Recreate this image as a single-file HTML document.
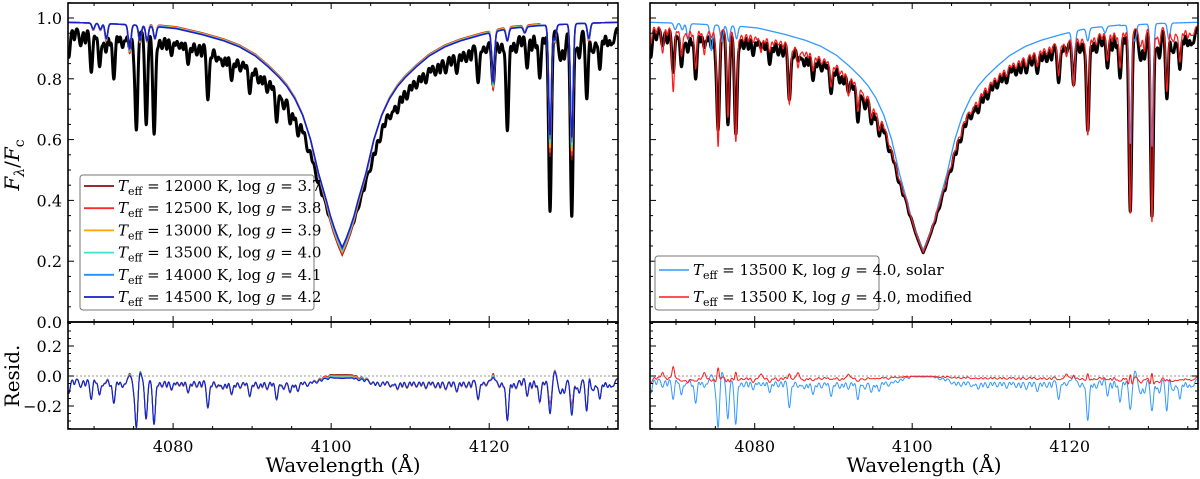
<!DOCTYPE html>
<html><head><meta charset="utf-8">
<style>
html,body{margin:0;padding:0;background:#fff;}
svg{display:block;font-family:"DejaVu Serif","Liberation Serif",serif;}
</style></head>
<body>
<svg id="fig" width="1200" height="479" viewBox="0 0 1200 479" xmlns="http://www.w3.org/2000/svg">
<defs>
<clipPath id="cTL"><rect x="68" y="3" width="550" height="319"/></clipPath>
<clipPath id="cBL"><rect x="68" y="322" width="550" height="107"/></clipPath>
<clipPath id="cTR"><rect x="650" y="3" width="548" height="319"/></clipPath>
<clipPath id="cBR"><rect x="650" y="322" width="548" height="107"/></clipPath>
</defs>
<g id="layer"></g>
</svg>
<script>
// ---------- data ----------
const lamMin = 4066.7, lamMax = 4136.3;
const hdCenter = 4101.4;
const profDelta = [0, 0.5, 1, 1.5, 2, 3, 4, 5, 6, 7, 8, 9.4, 11, 13, 15, 17.7, 21, 25, 30, 40];
const modelProfVal = [0.245, 0.275, 0.31, 0.35, 0.40, 0.49, 0.60, 0.68, 0.735, 0.775, 0.805, 0.84, 0.875, 0.905, 0.925, 0.945, 0.965, 0.975, 0.982, 0.99];
const obsProfVal = [0.228, 0.26, 0.295, 0.34, 0.385, 0.47, 0.565, 0.65, 0.70, 0.74, 0.775, 0.81, 0.845, 0.87, 0.895, 0.92, 0.94, 0.955, 0.965, 0.97];
const teffLabels = ["12000", "12500", "13000", "13500", "14000", "14500"];
const loggLabels = ["3.7", "3.8", "3.9", "4.0", "4.1", "4.2"];
const teffColors = ["#8b1010", "#ff2a2a", "#ffa500", "#40e0d0", "#1e90ff", "#1c1cc8"];
const coreOffset = [-0.025, -0.02, -0.015, -0.01, -0.005, 0];
const wingOffset = [0.006, 0.005, 0.004, 0.002, 0.001, 0];
const modelLineLam = [4069.9, 4070.8, 4071.55, 4074.5, 4075.8, 4076.7, 4077.7, 4120.5, 4122.3, 4124.5, 4127.7, 4128.3, 4130.45, 4132.6];
const modelLineDepth = [0.02, 0.02, 0.05, 0.08, 0.05, 0.05, 0.04, 0.17, 0.04, 0.02, 0.37, 0.05, 0.38, 0.05];
const obsLineLam = [4066.8, 4068.3, 4069.65, 4070.7, 4071.5, 4072.5, 4073.6, 4074.5, 4075.35, 4076.6, 4077.6, 4078.6, 4079.8, 4080.8, 4081.9, 4083.0, 4084.4, 4085.5, 4086.3, 4087.4, 4088.5, 4089.7, 4090.8, 4091.9, 4093.1, 4094.0, 4094.8, 4095.8, 4097.0, 4098.2, 4103.5, 4105.0, 4106.2, 4107.5, 4108.4, 4109.6, 4110.8, 4112.0, 4113.2, 4114.5, 4115.9, 4117.1, 4118.6, 4119.6, 4120.5, 4121.3, 4122.3, 4123.4, 4124.8, 4126.4, 4127.7, 4128.9, 4129.5, 4130.45, 4131.4, 4132.35, 4133.2, 4134.0, 4135.0, 4135.7];
const obsLineDepth = [0.10, 0.06, 0.15, 0.13, 0.08, 0.17, 0.06, 0.06, 0.34, 0.32, 0.35, 0.05, 0.07, 0.04, 0.09, 0.05, 0.20, 0.05, 0.06, 0.10, 0.05, 0.12, 0.06, 0.07, 0.16, 0.07, 0.10, 0.10, 0.06, 0.05, 0.04, 0.05, 0.06, 0.05, 0.07, 0.06, 0.05, 0.06, 0.05, 0.06, 0.08, 0.05, 0.14, 0.04, 0.16, 0.05, 0.33, 0.06, 0.12, 0.16, 0.62, 0.08, 0.10, 0.64, 0.10, 0.24, 0.08, 0.14, 0.06, 0.05];
const weakLineLam = [4067.5, 4068.9, 4070.2, 4071.1, 4072.0, 4073.1, 4074.0, 4075.0, 4078.1, 4079.2, 4080.3, 4081.3, 4082.4, 4083.6, 4084.9, 4085.9, 4086.8, 4087.9, 4089.1, 4090.2, 4091.3, 4092.5, 4093.6, 4095.3, 4096.4, 4097.6, 4098.8, 4099.6, 4102.9, 4104.2, 4105.6, 4106.8, 4107.9, 4109.0, 4110.2, 4111.4, 4112.6, 4113.8, 4115.2, 4116.5, 4117.7, 4119.1, 4121.8, 4122.9, 4124.1, 4125.4, 4125.9, 4127.0, 4129.1, 4131.0, 4132.9, 4133.6, 4134.5, 4135.4];
const weakLineDepth = [0.04, 0.05, 0.03, 0.04, 0.05, 0.04, 0.03, 0.05, 0.04, 0.05, 0.03, 0.04, 0.04, 0.05, 0.04, 0.03, 0.05, 0.04, 0.03, 0.04, 0.05, 0.04, 0.03, 0.05, 0.04, 0.03, 0.04, 0.03, 0.03, 0.04, 0.05, 0.04, 0.03, 0.05, 0.04, 0.04, 0.03, 0.05, 0.04, 0.04, 0.05, 0.03, 0.04, 0.05, 0.04, 0.06, 0.05, 0.04, 0.05, 0.06, 0.05, 0.04, 0.05, 0.04];
const modLineDepth = [0.06, 0.09, 0.22, 0.10, 0.04, 0.14, 0.09, 0.03, 0.40, 0.30, 0.38, 0.03, 0.03, 0.06, 0.05, 0.02, 0.22, 0.08, 0.03, 0.07, 0.03, 0.10, 0.03, 0.09, 0.12, 0.04, 0.08, 0.08, 0.03, 0.03, 0.02, 0.03, 0.04, 0.03, 0.05, 0.04, 0.03, 0.04, 0.03, 0.04, 0.06, 0.03, 0.12, 0.06, 0.17, 0.03, 0.35, 0.04, 0.10, 0.13, 0.63, 0.05, 0.08, 0.66, 0.06, 0.22, 0.05, 0.12, 0.04, 0.03];
const topTicks = [0.0, 0.2, 0.4, 0.6, 0.8, 1.0];
const residTicks = [-0.2, 0.0, 0.2];
const xTicks = [4080, 4100, 4120];

// ---------- helpers ----------
const NS = "http://www.w3.org/2000/svg";
const layer = document.getElementById("layer");
function mk(tag, attrs, parent) {
  const e = document.createElementNS(NS, tag);
  for (const k in attrs) e.setAttribute(k, attrs[k]);
  (parent || layer).appendChild(e);
  return e;
}
function interp(xa, ya, v) {
  if (v <= xa[0]) return ya[0];
  for (let i = 1; i < xa.length; i++) if (v <= xa[i]) {
    const t = (v - xa[i-1]) / (xa[i] - xa[i-1]);
    return ya[i-1] + t * (ya[i] - ya[i-1]);
  }
  return ya[ya.length - 1];
}
function lineFactor(l, L, D, s, mult) {
  let f = 1;
  for (let i = 0; i < L.length; i++) {
    const d = l - L[i];
    if (Math.abs(d) > 6 * s) continue;
    f *= 1 - Math.min(0.95, D[i] * mult) * Math.exp(-d * d / (2 * s * s));
  }
  return f;
}
const grid = [];
for (let l = lamMin; l <= lamMax + 1e-9; l += 0.02) grid.push(l);

function modelFlux(l, k) {
  const d = Math.abs(l - hdCenter);
  const g = Math.exp(-d * d / (2 * 2.5 * 2.5));
  const base = interp(profDelta, modelProfVal, d) + coreOffset[k] * g + wingOffset[k] * (1 - g) * (d < 25 ? 1 : 0);
  return base * lineFactor(l, modelLineLam, modelLineDepth, 0.17, 1 + 0.04 * (5 - k));
}
function obsFlux(l) {
  const d = Math.abs(l - hdCenter);
  return interp(profDelta, obsProfVal, d) * lineFactor(l, obsLineLam, obsLineDepth, 0.18, 1) * lineFactor(l, weakLineLam, weakLineDepth, 0.12, 1);
}
function modFlux(l) {
  const d = Math.abs(l - hdCenter);
  return interp(profDelta, obsProfVal, d) * 1.006 * lineFactor(l, obsLineLam, modLineDepth, 0.16, 1) * lineFactor(l, weakLineLam, weakLineDepth, 0.12, 0.6);
}

// ---------- axes ----------
function makeAxes(x0, x1) {
  const xs = l => x0 + (l - lamMin) / (lamMax - lamMin) * (x1 - x0);
  const ysT = v => 322 - v * 304;
  const ysB = v => 376 - v * 150;
  return { x0, x1, xs, ysT, ysB };
}
const AL = makeAxes(68, 618), AR = makeAxes(650, 1198);

function pathFrom(xsF, ysF, vals) {
  let s = "";
  for (let i = 0; i < grid.length; i++) s += (i ? "L" : "M") + xsF(grid[i]).toFixed(2) + "," + ysF(vals[i]).toFixed(2);
  return s;
}

const obsVals = grid.map(obsFlux);
const modelVals = teffColors.map((c, k) => grid.map(l => modelFlux(l, k)));
const modVals = grid.map(modFlux);

// ---- left top ----
const gTL = mk("g", { "clip-path": "url(#cTL)" });


const obsL = mk("path", { d: pathFrom(AL.xs, AL.ysT, obsVals), fill: "none", stroke: "#000", "stroke-width": 3, "stroke-linejoin": "round" }, gTL);


teffColors.forEach((c, k) => {
  const p = mk("path", { d: pathFrom(AL.xs, AL.ysT, modelVals[k]), fill: "none", stroke: c, "stroke-width": 1.5 }, gTL);
  
  
});

// ---- left resid ----
const gBL = mk("g", { "clip-path": "url(#cBL)" });


const zL = mk("line", { x1: 68, x2: 618, y1: AL.ysB(0), y2: AL.ysB(0), stroke: "#999", "stroke-width": 1, "stroke-dasharray": "2 2" }, gBL);


teffColors.forEach((c, k) => {
  const r = obsVals.map((v, i) => v - modelVals[k][i]);
  const p = mk("path", { d: pathFrom(AL.xs, AL.ysB, r), fill: "none", stroke: c, "stroke-width": 1.1 }, gBL);
  
  
});

// ---- right top ----
const gTR = mk("g", { "clip-path": "url(#cTR)" });


const obsR = mk("path", { d: pathFrom(AR.xs, AR.ysT, obsVals), fill: "none", stroke: "#000", "stroke-width": 3, "stroke-linejoin": "round" }, gTR);


const solR = mk("path", { d: pathFrom(AR.xs, AR.ysT, modelVals[3]), fill: "none", stroke: "#3399ff", "stroke-width": 1.3 }, gTR);


const modR = mk("path", { d: pathFrom(AR.xs, AR.ysT, modVals), fill: "none", stroke: "#ff1a1a", "stroke-width": 1.2 }, gTR);



// ---- right resid ----
const gBR = mk("g", { "clip-path": "url(#cBR)" });


const zR = mk("line", { x1: 650, x2: 1198, y1: AR.ysB(0), y2: AR.ysB(0), stroke: "#999", "stroke-width": 1, "stroke-dasharray": "2 2" }, gBR);


const rSol = mk("path", { d: pathFrom(AR.xs, AR.ysB, obsVals.map((v, i) => v - modelVals[3][i])), fill: "none", stroke: "#3399ff", "stroke-width": 1 }, gBR);


const rMod = mk("path", { d: pathFrom(AR.xs, AR.ysB, obsVals.map((v, i) => v - modVals[i])), fill: "none", stroke: "#ff1a1a", "stroke-width": 1 }, gBR);



// ---------- frames & ticks ----------
function frame(A, withLabels) {
  const g = mk("g", {});
  
  
  mk("rect", { x: A.x0, y: 3, width: A.x1 - A.x0, height: 319, fill: "none", stroke: "#000", "stroke-width": 1.6 }, g);
  mk("rect", { x: A.x0, y: 322, width: A.x1 - A.x0, height: 107, fill: "none", stroke: "#000", "stroke-width": 1.6 }, g);
  for (let l = 4070; l <= 4135; l += 5) {
    const x = A.xs(l), major = xTicks.includes(l), len = major ? 6 : 3;
    [3, 322].forEach(y => mk("line", { x1: x, x2: x, y1: y, y2: y + len, stroke: "#000", "stroke-width": 1 }, g));
    [322, 429].forEach(y => mk("line", { x1: x, x2: x, y1: y, y2: y - len, stroke: "#000", "stroke-width": 1 }, g));
  }
  xTicks.forEach(l => {
    const t = mk("text", { x: A.xs(l), y: 452, "text-anchor": "middle", "font-size": 16 }, g);
    t.textContent = l;
    
    
  });
  for (let i = 0; i <= 21; i++) {
    const v = i * 0.05, y = A.ysT(v), major = i % 4 === 0, len = major ? 6 : 3;
    mk("line", { x1: A.x0, x2: A.x0 + len, y1: y, y2: y, stroke: "#000", "stroke-width": 1 }, g);
    mk("line", { x1: A.x1, x2: A.x1 - len, y1: y, y2: y, stroke: "#000", "stroke-width": 1 }, g);
  }
  for (let i = -7; i <= 7; i++) {
    const v = i * 0.05, y = A.ysB(v), major = i % 4 === 0, len = major ? 6 : 3;
    mk("line", { x1: A.x0, x2: A.x0 + len, y1: y, y2: y, stroke: "#000", "stroke-width": 1 }, g);
    mk("line", { x1: A.x1, x2: A.x1 - len, y1: y, y2: y, stroke: "#000", "stroke-width": 1 }, g);
  }
  if (withLabels) {
    topTicks.forEach(v => {
      const t = mk("text", { x: 62, y: A.ysT(v) + 6, "text-anchor": "end", "font-size": 16 }, g);
      t.textContent = v.toFixed(1);
      
      
    });
    residTicks.forEach(v => {
      const t = mk("text", { x: 62, y: A.ysB(v) + 6, "text-anchor": "end", "font-size": 16 }, g);
      t.textContent = v < 0 ? "\u2212" + Math.abs(v).toFixed(1) : v.toFixed(1);
      
      
    });
  }
  const xl = mk("text", { x: (A.x0 + A.x1) / 2, y: 472, "text-anchor": "middle", "font-size": 20 }, g);
  xl.textContent = "Wavelength (\u00C5)";
  
  
}
frame(AL, true);
frame(AR, false);

const yt = mk("text", { x: 0, y: 0, "font-size": 20, transform: "translate(19,165) rotate(-90)", "text-anchor": "middle" });
yt.innerHTML = '<tspan font-style="italic">F</tspan><tspan font-style="italic" font-size="14" dy="5">λ</tspan><tspan dy="-5">/</tspan><tspan font-style="italic">F</tspan><tspan font-size="14" dy="5">c</tspan>';


const rt = mk("text", { x: 0, y: 0, "font-size": 20, transform: "translate(19,376) rotate(-90)", "text-anchor": "middle" });
rt.textContent = "Resid.";



// ---------- legends ----------
function legendText(parent, x, y, teff, logg, extra) {
  const t = mk("text", { x: x, y: y, "font-size": 15 }, parent);
  t.innerHTML = '<tspan font-style="italic">T</tspan><tspan font-size="11" dy="4">eff</tspan><tspan dy="-4"> = ' + teff + ' K, log </tspan><tspan font-style="italic">g</tspan><tspan> = ' + logg + (extra || '') + '</tspan>';
  return t;
}
const lg = mk("g", {});


mk("rect", { x: 80, y: 175, width: 234, height: 135, rx: 3, fill: "#fff", "fill-opacity": 0.85, stroke: "#777", "stroke-width": 1 }, lg);
teffColors.forEach((c, k) => {
  const y = 186 + k * 22.2;
  const e = mk("g", {}, lg);
  
  
  mk("line", { x1: 84, x2: 114, y1: y, y2: y, stroke: c, "stroke-width": 1.8 }, e);
  legendText(e, 118, y + 5, teffLabels[k], loggLabels[k]);
});
const lg2 = mk("g", {});


mk("rect", { x: 655, y: 256, width: 224, height: 54, rx: 3, fill: "#fff", "fill-opacity": 0.85, stroke: "#777", "stroke-width": 1 }, lg2);
[["#3399ff", ", solar"], ["#ff1a1a", ", modified"]].forEach((d, k) => {
  const y = 270 + k * 27;
  const e = mk("g", {}, lg2);
  
  
  mk("line", { x1: 659, x2: 689, y1: y, y2: y, stroke: d[0], "stroke-width": 1.6 }, e);
  legendText(e, 693, y + 5, "13500", "4.0", d[1]);
});
</script>
</body></html>
